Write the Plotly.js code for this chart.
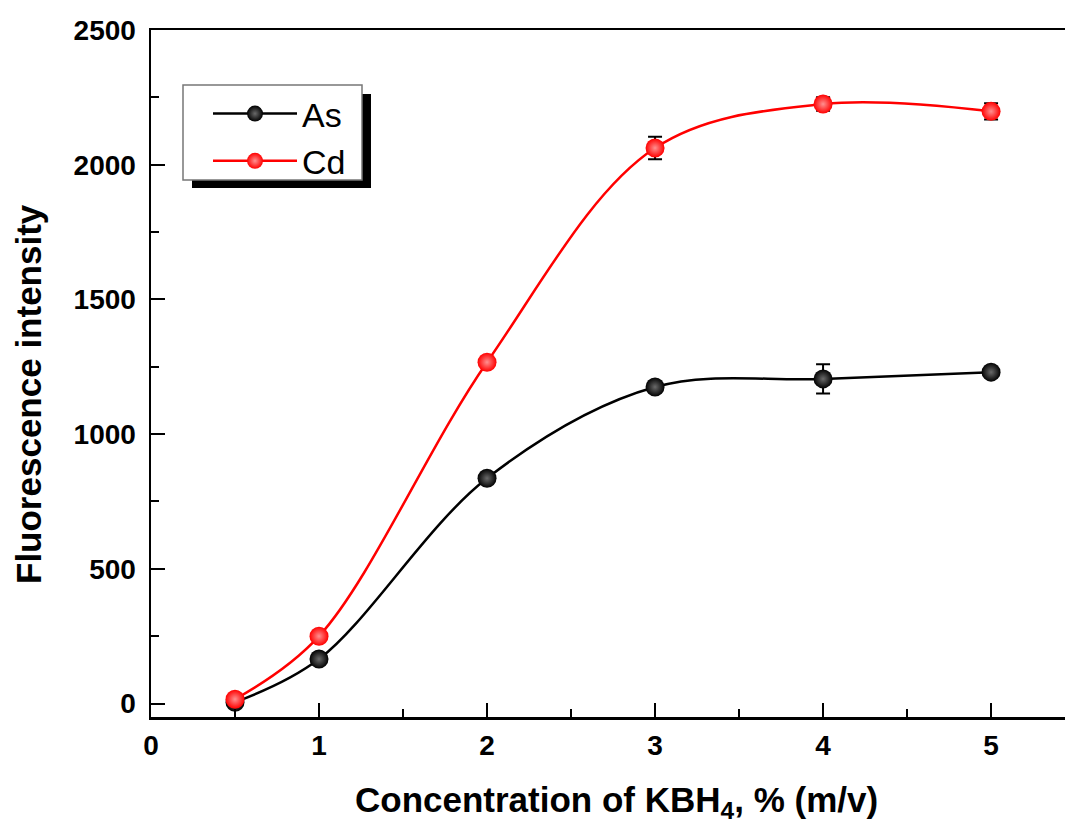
<!DOCTYPE html>
<html>
<head>
<meta charset="utf-8">
<script src="https://cdn.plot.ly/plotly-3.0.1.min.js"></script>
<style>html,body{margin:0;padding:0;background:#fff;}#chart{width:1065px;height:831px;}</style>
</head>
<body>
<div id="chart"></div>
<script>
const concentration = [0.5, 1, 2, 3, 4, 5];
const asIntensity = [5, 165, 836, 1175, 1205, 1230];
const asError = [8, 10, 12, 18, 54, 14];
const cdIntensity = [16, 250, 1267, 2062, 2225, 2198];
const cdError = [10, 12, 15, 42, 25, 30];
const seriesNames = ["As", "Cd"];
const xTitle = "Concentration of KBH<sub>4</sub>, % (m/v)";
const yTitle = "Fluorescence intensity";

const font = "Arial, 'Liberation Sans', sans-serif";

function series(name, y, err, color, center) {
  return {
    x: concentration, y: y, name: name, type: "scatter", mode: "lines+markers",
    line: {color: color, width: 2.5, shape: "spline", smoothing: 1},
    marker: {color: color, size: 19, symbol: "circle", line: {width: 0},
             gradient: {type: "radial", color: center}},
    error_y: {type: "data", array: err, visible: true, color: "#000", thickness: 2, width: 7}
  };
}

const data = [
  series(seriesNames[0], asIntensity, asError, "#000000", "#6a6a6a"),
  series(seriesNames[1], cdIntensity, cdError, "#ff0000", "#ff9090")
];

// plot area: x 151..1065 px, y 30..717 px
const W = 914, H = 687;
const px = v => (v - 151) / W;
const py = v => (717 - v) / H;

const layout = {
  width: 1065, height: 831,
  margin: {l: 151, r: 0, t: 30, b: 114},
  paper_bgcolor: "#fff", plot_bgcolor: "#fff",
  showlegend: true,
  legend: {
    x: px(208), y: py(85), xanchor: "left", yanchor: "top",
    bgcolor: "rgba(0,0,0,0)", borderwidth: 0,
    font: {family: font, size: 34, color: "#000"},
    itemwidth: 84, tracegroupgap: 0
  },
  xaxis: {
    range: [0, 5.44], showgrid: false, zeroline: false,
    showline: true, linecolor: "#000", linewidth: 2.5, mirror: true,
    ticks: "inside", ticklen: 14, tickwidth: 2, tickcolor: "#000",
    tick0: 0, dtick: 1, ticklabelstandoff: 2,
    minor: {ticks: "inside", ticklen: 8, tickwidth: 2, tickcolor: "#000", dtick: 0.5},
    tickfont: {family: font, size: 28, color: "#000", weight: "bold"}
  },
  yaxis: {
    range: [-50, 2500], showgrid: false, zeroline: false,
    showline: true, linecolor: "#000", linewidth: 2.5,
    ticks: "inside", ticklen: 14, tickwidth: 2, tickcolor: "#000",
    tick0: 0, dtick: 500, ticklabelstandoff: 7,
    minor: {ticks: "inside", ticklen: 8, tickwidth: 2, tickcolor: "#000", dtick: 250},
    tickfont: {family: font, size: 28, color: "#000", weight: "bold"}
  },
  annotations: [
    {text: xTitle, xref: "paper", yref: "paper", x: px(616), y: py(802),
     xanchor: "center", yanchor: "middle", showarrow: false,
     font: {family: font, size: 35, color: "#000", weight: "bold"}},
    {text: yTitle, xref: "paper", yref: "paper", x: px(28), y: py(394),
     xanchor: "center", yanchor: "middle", showarrow: false, textangle: -90,
     font: {family: font, size: 35, color: "#000", weight: "bold"}}
  ],
  shapes: [
    {type: "rect", xref: "paper", yref: "paper", layer: "above",
     x0: px(192), x1: px(371), y0: py(188), y1: py(94),
     fillcolor: "#000", line: {width: 0}},
    {type: "rect", xref: "paper", yref: "paper", layer: "above",
     x0: px(183), x1: px(362), y0: py(180), y1: py(85),
     fillcolor: "#fff", line: {width: 1.5, color: "#777"}}
  ]
};

Plotly.newPlot("chart", data, layout, {displayModeBar: false, staticPlot: true});
</script>
</body>
</html>
